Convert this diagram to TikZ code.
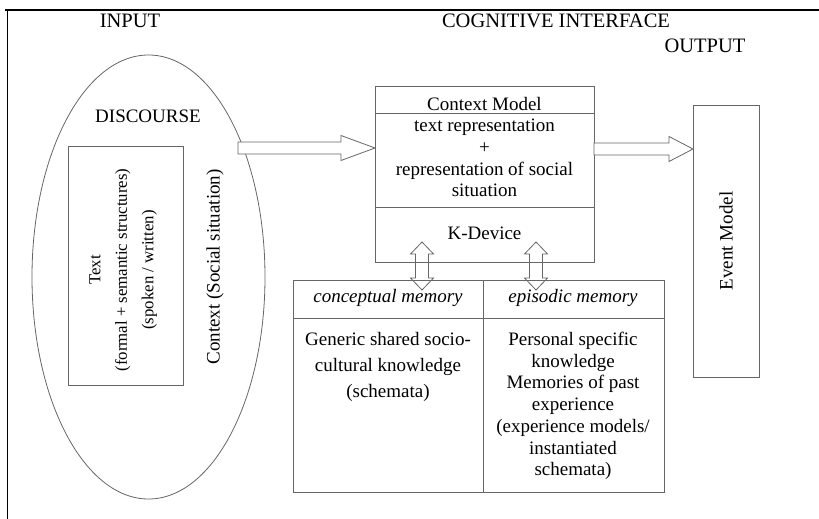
\documentclass[tikz,border=0pt]{standalone}
\usepackage{fontspec}
\setmainfont{Liberation Serif}
\usetikzlibrary{shapes.geometric,calc}

% flat block arrow, left to right: tail, tip, head length
\newcommand{\rightblock}[3]{%
  \draw[block] let \p1=(#1), \p2=(#2) in
    (\x1,\y1+6pt) -- (\x2-#3,\y1+6pt) -- (\x2-#3,\y1+12.5pt) -- (\x2,\y1)
    -- (\x2-#3,\y1-12.5pt) -- (\x2-#3,\y1-6pt) -- (\x1,\y1-6pt) -- cycle;}
% block arrow with two heads, top tip to bottom tip
\newcommand{\updownblock}[2]{%
  \draw[block,fill=none] let \p1=(#1), \p2=(#2) in
    (\x1,\y1) -- (\x1+11.5pt,\y1-12pt) -- (\x1+6.5pt,\y1-12pt)
    -- (\x1+6.5pt,\y2+12pt) -- (\x1+11.5pt,\y2+12pt) -- (\x1,\y2)
    -- (\x1-11.5pt,\y2+12pt) -- (\x1-6.5pt,\y2+12pt)
    -- (\x1-6.5pt,\y1-12pt) -- (\x1-11.5pt,\y1-12pt) -- cycle;}

\begin{document}
\begin{tikzpicture}[x=1pt,y=-1pt,
                    font=\fontsize{19}{21.7}\selectfont,
                    inner sep=0pt, outer sep=0pt]
	\tikzstyle{box}=[draw=black!60,line width=0.8pt]
	\tikzstyle{block}=[draw=black!60,line width=0.8pt,fill=white]
	\tikzstyle{head}=[font=\fontsize{20.5}{24}\selectfont]

	\useasboundingbox (0,0) rectangle (819,519);
	\draw[line width=1.2pt] (5,10) -- (819,10);
	\draw[line width=0.8pt] (7,10) -- (7,519);

	\node[head] (I)  at (130,21) {INPUT};
	\node[head] (CI) at (556,21) {COGNITIVE INTERFACE};
	\node[head] (O)  at (705,46) {OUTPUT};

	% input side
	\node[box,ellipse,minimum width=233pt,minimum height=444pt] (D) at (148.5,277) {};
	\node (DS) at (148,116) {DISCOURSE};
	\node[box,minimum width=115pt,minimum height=239pt] (T) at (125.5,265.5) {};
	\node[rotate=90] (TT) at (121.5,270)
	      {\fontsize{16.8}{26.5}\selectfont
	       \begin{tabular}{@{}c@{}}Text\\(formal + semantic structures)\\(spoken / written)\end{tabular}};
	\node[rotate=90] (S) at (215,267) {Context (Social situation)};

	% context model
	\node[box,minimum width=219pt,minimum height=176pt] (C) at (484.5,174) {};
	\draw[box] ([yshift=-27pt]C.north west) -- ([yshift=-27pt]C.north east);
	\draw[box] ([yshift=-121pt]C.north west) -- ([yshift=-121pt]C.north east);
	\node (CM) at (484.5,104) {Context Model};
	\node[align=center] (R) at (484.5,158)
	      {text representation\\+\\representation of social\\situation};
	\node (K) at (484.5,233) {K-Device};

	% memories
	\node[box,minimum width=371pt,minimum height=212pt] (M) at (478.5,386) {};
	\draw[box] ([xshift=4.5pt]M.north) -- ([xshift=4.5pt]M.south);
	\draw[box] ([yshift=-38pt]M.north west) -- ([yshift=-38pt]M.north east);
	\node (CP) at (388,298) {\itshape conceptual memory};
	\node (EP) at (573,298) {\itshape episodic memory};
	\node[align=center,font=\fontsize{19}{25.7}\selectfont] (G) at (388,367)
	      {Generic shared socio-\\cultural knowledge\\(schemata)};
	\node[align=center] (P) at (573,406)
	      {Personal specific\\knowledge\\Memories of past\\experience\\(experience models/\\instantiated\\schemata)};

	% output
	\node[box,minimum width=66pt,minimum height=272pt] (E) at (726,241) {};
	\node[rotate=90] (EM) at (E.center) {Event Model};

	% arrows
	\coordinate (a1) at (238,148);
	\coordinate (a2) at (595,149);
	\coordinate (b1) at (422,242);
	\coordinate (b2) at (536,242);
	\coordinate (c1) at (422,290);
	\coordinate (c2) at (536,290);
	\rightblock{a1}{C.west |- a1}{34pt}
	\rightblock{C.east |- a2}{E.west |- a2}{24pt}
	\updownblock{b1}{c1}
	\updownblock{b2}{c2}
\end{tikzpicture}
\end{document}
